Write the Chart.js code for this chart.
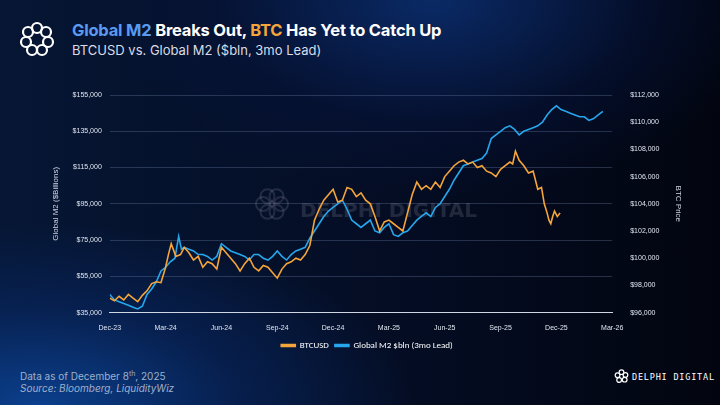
<!DOCTYPE html>
<html><head><meta charset="utf-8">
<script src="https://cdn.jsdelivr.net/npm/chart.js@4"></script>
<style>
html,body{margin:0;padding:0;width:720px;height:405px;overflow:hidden;font-family:Inter,"Open Sans",sans-serif;}
body{background:radial-gradient(ellipse 70% 60% at 5% 100%,#0b3f8c 0%,rgba(8,40,100,0.6) 40%,rgba(0,0,0,0) 75%),radial-gradient(ellipse 60% 60% at 60% 0%,#0a2a66 0%,rgba(6,20,60,0.5) 50%,rgba(0,0,0,0) 80%),linear-gradient(90deg,#061634 0%,#040c22 60%,#02050f 100%);}
#title{position:absolute;left:72px;top:20px;font-size:16.5px;font-weight:700;color:#fff;letter-spacing:-0.2px}
#sub{position:absolute;left:72px;top:42px;font-size:13px;color:#d8dce6}
#foot1{position:absolute;left:20px;top:369px;font-size:10px;color:#9fb0cc}
#foot2{position:absolute;left:20px;top:382px;font-size:10px;color:#9fb0cc;font-style:italic}
#brand{position:absolute;left:632px;top:372px;font-size:8.5px;color:#fff;letter-spacing:0.8px;white-space:nowrap;font-family:"DejaVu Sans Mono",monospace}
#wrap{position:absolute;left:0;top:80px;width:720px;height:280px}
</style></head><body>
<svg style="position:absolute;left:18px;top:20px" width="38" height="38" viewBox="0 0 38 38"><g fill="none" stroke="#fff" stroke-width="2.2">
<circle cx="19" cy="8" r="5"/><circle cx="28" cy="12" r="5"/><circle cx="30" cy="22" r="5"/><circle cx="24" cy="30" r="5"/><circle cx="14" cy="30" r="5"/><circle cx="8" cy="22" r="5"/><circle cx="10" cy="12" r="5"/></g></svg>
<div id="title"><span style="color:#5a9af0">Global M2</span> Breaks Out, <span style="color:#f5a53a">BTC</span> Has Yet to Catch Up</div>
<div id="sub">BTCUSD vs. Global M2 ($bln, 3mo Lead)</div>
<div id="wrap"><canvas id="c" width="720" height="280"></canvas></div>
<div id="foot1">Data as of December 8<sup style="font-size:7px">th</sup>, 2025</div>
<div id="foot2">Source: Bloomberg, LiquidityWiz</div>
<svg style="position:absolute;left:614px;top:369px" width="15" height="15" viewBox="0 0 38 38"><g fill="none" stroke="#fff" stroke-width="3"><circle cx="19" cy="8" r="6"/><circle cx="29" cy="15" r="6"/><circle cx="27" cy="27" r="6"/><circle cx="13" cy="28" r="6"/><circle cx="9" cy="16" r="6"/></g></svg>
<div id="brand">DELPHI DIGITAL</div>
<script>
const monthLabels=["Dec-23","Mar-24","Jun-24","Sep-24","Dec-24","Mar-25","Jun-25","Sep-25","Dec-25","Mar-26"];
const btcMonths=[0,0.25,0.5,0.75,1,1.25,1.5,1.75,2,2.25,2.5,2.75,3,3.15,3.3,3.55,3.8,4,4.25,4.5,4.75,5,5.25,5.5,5.75,6,6.25,6.5,6.75,7,7.25,7.5,7.75,8,8.25,8.5,8.75,9,9.25,9.5,9.75,10,10.25,10.5,10.75,11,11.25,11.5,11.75,12,12.25,12.5,12.75,13,13.25,13.5,13.75,14,14.25,14.5,14.75,15,15.25,15.5,15.75,16,16.25,16.5,16.75,17,17.25,17.5,17.75,18,18.25,18.5,18.75,19,19.25,19.5,19.75,20,20.25,20.5,20.75,21,21.25,21.5,21.65,21.8,22,22.25,22.5,22.75,23,23.2,23.35,23.5,23.6,23.7,23.8,23.9,24.05,24.2];
const btcValues=[43000,41500,44000,42000,45000,43000,41000,44500,47000,51000,52000,51500,60000,67000,73000,66000,67000,71000,68000,64000,66000,60000,63000,62000,59000,71000,68000,65000,62000,58000,62000,65000,60000,58000,61000,60000,57000,54000,59000,62000,63000,65000,64000,67000,72000,86000,92000,97000,100000,103000,96000,97000,104000,103000,99000,101000,97000,95000,88000,80000,85000,86000,84000,82000,80000,90000,100000,107000,103000,105000,103000,107000,104000,110000,113000,116000,118000,119000,117000,118000,115000,116000,113000,112000,110000,114000,116000,118000,117000,124000,119000,116000,112000,113000,103000,104000,95000,90000,86000,84000,88000,91000,88000,90000];
const m2Months=[0,0.25,0.5,0.75,1,1.25,1.5,1.75,2,2.25,2.5,2.75,3,3.25,3.5,3.7,3.85,4,4.25,4.5,4.75,5,5.25,5.5,5.75,6,6.25,6.5,6.75,7,7.25,7.5,7.75,8,8.25,8.5,8.75,9,9.25,9.5,9.75,10,10.25,10.5,10.75,11,11.25,11.5,11.75,12,12.25,12.5,12.75,13,13.25,13.5,13.75,14,14.25,14.5,14.75,15,15.25,15.5,15.75,16,16.25,16.5,16.75,17,17.25,17.5,17.75,18,18.25,18.5,18.75,19,19.25,19.5,19.75,20,20.25,20.5,20.75,21,21.25,21.5,21.75,22,22.25,22.5,22.75,23,23.25,23.5,23.75,24,24.25,24.5,24.75,25,25.25,25.5,25.75,26,26.25,26.5];
const m2Values=[45000,42000,41000,40000,39000,38000,37000,38500,45000,48000,52000,58000,60000,63000,65000,77000,70000,71000,70000,69000,67000,67000,66000,64000,66000,73000,71000,69000,68000,67000,66000,64000,67000,67000,65000,64000,66000,69000,66000,64000,67000,69000,70000,71000,76000,80000,84000,88000,91000,93000,95000,97000,92000,86000,84000,82000,84000,86000,80000,79000,82000,84000,78000,77000,79000,80000,83000,86000,88000,90000,88000,93000,95000,99000,103000,108000,112000,116000,117000,118000,119000,120000,123000,131000,133000,135000,137000,138000,136000,133000,135000,136000,137000,138000,140000,144000,147000,149000,147000,146000,145000,144000,143000,143000,141000,142000,144000,146000];
const leftTicks=[35000,55000,75000,95000,115000,135000,155000];
const rightTicks=[96000,98000,100000,102000,104000,106000,108000,110000,112000];
const fmt=v=>"$"+v.toLocaleString("en-US");
const toPts=(xs,ys)=>xs.map((x,i)=>({x,y:ys[i]}));
const wm={id:"wm",beforeDatasetsDraw(ch){const c=ch.ctx;c.save();c.globalAlpha=0.18;c.fillStyle="#aab";c.font="bold 20px 'DejaVu Sans'";c.fillText("DELPHI DIGITAL",300,132);c.strokeStyle="#aab";c.lineWidth=2;for(let k=0;k<6;k++){const t=k*Math.PI/3;c.beginPath();c.arc(272+9*Math.cos(t),124+9*Math.sin(t),7,0,7);c.stroke();}c.restore();}};
new Chart(document.getElementById("c"),{type:"line",data:{datasets:[
{label:"BTCUSD",data:toPts(btcMonths,btcValues),borderColor:"#f5a53a",backgroundColor:"#f5a53a",borderWidth:1.6,pointRadius:0,tension:0,yAxisID:"y"},
{label:"Global M2 $bln (3mo Lead)",data:toPts(m2Months,m2Values),borderColor:"#27a6ec",backgroundColor:"#27a6ec",borderWidth:1.6,pointRadius:0,tension:0,yAxisID:"y"},
{label:"_r",data:[],yAxisID:"y2"}]},
options:{responsive:false,animation:false,layout:{padding:{left:47,right:33,top:15,bottom:0}},
plugins:{legend:{position:"bottom",labels:{color:"#fff",font:{size:9,family:"Calibri, 'Liberation Sans'"},boxWidth:14,boxHeight:2,padding:6,filter:i=>i.text!=="_r"}},tooltip:{enabled:false}},
scales:{x:{type:"linear",min:0,max:27,grid:{display:false},border:{color:"#cfd6e4"},ticks:{stepSize:3,color:"#e0e6f0",font:{size:7},callback:v=>monthLabels[v/3]}},
y:{min:35000,max:155000,afterBuildTicks:s=>{s.ticks=leftTicks.map(v=>({value:v}))},grid:{color:"rgba(120,140,180,0.3)",drawTicks:false},border:{display:false},ticks:{color:"#e0e6f0",font:{size:7},padding:8,callback:fmt},title:{display:true,text:"Global M2 ($Billions)",color:"#d0d6e4",font:{size:8}}},
y2:{position:"right",min:96000,max:112000,afterBuildTicks:s=>{s.ticks=rightTicks.map(v=>({value:v}))},grid:{display:false},border:{display:false},ticks:{color:"#e0e6f0",font:{size:7},padding:10,callback:fmt},title:{display:true,text:"BTC Price",color:"#d0d6e4",font:{size:8}}}}},plugins:[wm]});
</script></body></html>
